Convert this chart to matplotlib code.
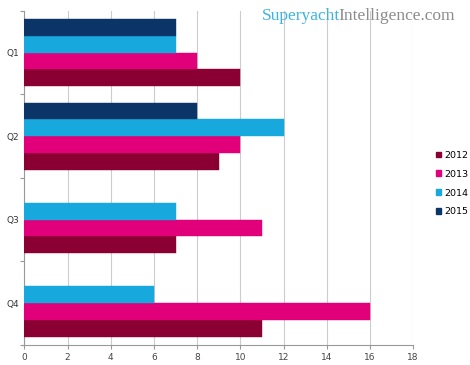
import numpy as np
import matplotlib.pyplot as plt
from matplotlib.patches import Patch

quarters = ['Q1', 'Q2', 'Q3', 'Q4']
years = ['2012', '2013', '2014', '2015']
v2012 = [10, 9, 7, 11]
v2013 = [8, 10, 11, 16]
v2014 = [7, 12, 7, 6]
v2015 = [7, 8, np.nan, np.nan]
x_ticks = [0, 2, 4, 6, 8, 10, 12, 14, 16, 18]

colores = ['#8a0033', '#e2007a', '#17a9de', '#0b3566']
series = [v2012, v2013, v2014, v2015]
offsets = [0.3, 0.1, -0.1, -0.3]

fig = plt.figure(figsize=(4.7, 3.65), dpi=100)
ax = fig.add_axes([0.052, 0.055, 0.827, 0.915])

y = np.arange(len(quarters))
for vals, off, col in zip(series, offsets, colores):
    vals = np.array(vals, dtype=float)
    ok = ~np.isnan(vals)
    ax.barh(y[ok] + off, vals[ok], height=0.2, color=col, edgecolor=col,
            linewidth=0.3, zorder=3)

ax.set_xlim(0, 18)
ax.set_ylim(3.5, -0.5)
ax.set_xticks(x_ticks)
ax.set_xticklabels([str(t) for t in x_ticks], fontsize=6.5, color='#444444')
ax.set_yticks(np.arange(-0.5, 4.0, 1.0))
ax.set_yticklabels([])
ax.set_yticks(y, minor=True)
ax.set_yticklabels(quarters, minor=True, fontsize=6.5, color='#333333')
ax.tick_params(axis='y', which='minor', length=0, pad=4)
ax.tick_params(axis='y', which='major', length=3, color='#999999')
ax.tick_params(axis='x', length=3, color='#999999', pad=3)

ax.grid(axis='x', color='#cccccc', linewidth=0.8, zorder=0)
for s in ['top', 'right']:
    ax.spines[s].set_visible(False)
for s in ['left', 'bottom']:
    ax.spines[s].set_color('#999999')
    ax.spines[s].set_linewidth(0.8)

handles = [Patch(facecolor=c, edgecolor=c) for c in colores]
fig.legend(handles, years, loc='center left', bbox_to_anchor=(0.91, 0.497),
           frameon=False, fontsize=6.8, handlelength=0.55, handleheight=0.55,
           handletextpad=0.3, labelspacing=1.05)

t1 = fig.text(0.558, 0.935, 'Superyacht', fontsize=12.5, family='Liberation Serif',
              color='#3cb4e2', va='bottom', ha='left')
ax.annotate('Intelligence.com', xy=(1, 0), xycoords=t1, xytext=(-1.5, 0),
            textcoords='offset points', va='bottom', ha='left',
            fontsize=12.5, family='Liberation Serif', color='#8c8c8c')

plt.savefig('out.png', dpi=100)
